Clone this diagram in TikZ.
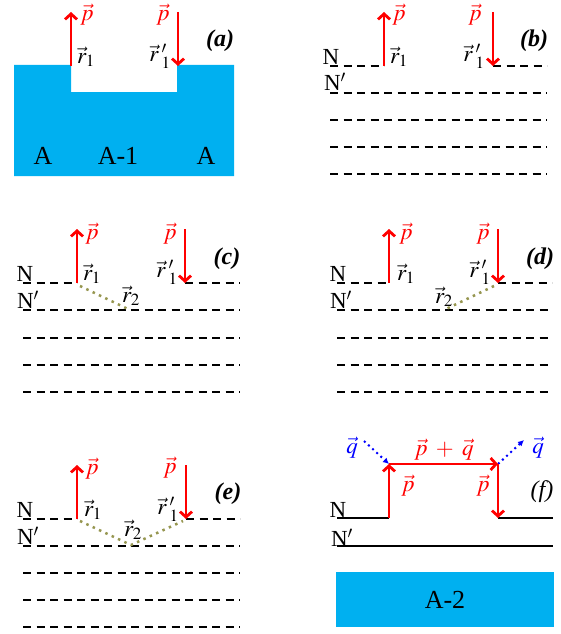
\documentclass[tikz,border=0pt]{standalone}
\usepackage{mathptmx}
\usepackage{fontspec}
\setmainfont{Liberation Serif}
\usetikzlibrary{arrows.meta}
\definecolor{cyanblue}{RGB}{0,176,240}
\definecolor{olivedot}{RGB}{150,150,80}
\begin{document}
\begin{tikzpicture}[x=1pt,y=-1pt,
  lbl/.style={font=\fontsize{23}{25}\selectfont, inner sep=0pt},
  big/.style={font=\fontsize{26}{28}\selectfont, inner sep=0pt},
  redlbl/.style={lbl, text=red},
  bluelbl/.style={lbl, text=blue},
  plbl/.style={font=\fontsize{24}{26}\selectfont\bfseries\itshape, inner sep=0pt},
  parr/.style={red, line width=2.8pt, -{Straight Barb[length=5.5pt,width=12pt]}},
  dline/.style={line width=2.5pt, dash pattern=on 8pt off 5.5pt},
  sline/.style={line width=2.5pt},
  dotpath/.style={olivedot, line width=2.5pt, dash pattern=on 2.5pt off 4.5pt},
  qarr/.style={blue, line width=2pt, dash pattern=on 2pt off 3.6pt, -{Latex[length=6pt,width=6pt]}}
]
\useasboundingbox (0,0) rectangle (561,634);

% ---------- (a)
\fill[cyanblue] (14,65) -- (71,65) -- (71,92) -- (177,92) -- (177,65) -- (234,65) -- (234,176) -- (14,176) -- cycle;
\node[big] (aA1) at (43,156) {A};
\node[big] (aAm) at (118,156) {A-1};
\node[big] (aA2) at (206,156) {A};
\coordinate (a1b) at (71,66); \coordinate (a1t) at (71,12);
\coordinate (a2t) at (178,12); \coordinate (a2b) at (178,66);
\draw[parr] (a1b) -- (a1t);
\draw[parr] (a2t) -- (a2b);
\node[redlbl] (ap1) at (87,15) {$\vec{p}$};
\node[redlbl] (ap2) at (163,15) {$\vec{p}$};
\node[lbl] (ar1) at (86,57) {$\vec{r}_1$};
\node[lbl] (ar1p) at (160,56) {$\vec{r}\,'_1$};
\node[plbl] (alab) at (220,41) {(a)};

% ---------- (b)
\coordinate (b1b) at (384,66); \coordinate (b1t) at (384,12);
\coordinate (b2t) at (493,12); \coordinate (b2b) at (493,66);
\draw[dline] (330,66) -- (b1b);
\draw[dline] (b2b) -- (547,66);
\foreach \yy in {93,120,147,174} \draw[dline] (330,\yy) -- (547,\yy);
\draw[parr] (b1b) -- (b1t);
\draw[parr] (b2t) -- (b2b);
\node[redlbl] (bp1) at (399,15) {$\vec{p}$};
\node[redlbl] (bp2) at (475,15) {$\vec{p}$};
\node[lbl] (br1) at (399,57) {$\vec{r}_1$};
\node[lbl] (br1p) at (474,56) {$\vec{r}\,'_1$};
\node[plbl] (blab) at (534,41) {(b)};
\node[lbl] (bN) at (331,57) {N};
\node[lbl] (bNp) at (335,82) {N$'$};

% ---------- (c)
\coordinate (c1b) at (77,283); \coordinate (c1t) at (77,229);
\coordinate (c2t) at (185,229); \coordinate (c2b) at (185,283);
\coordinate (c1d) at (80,286); \coordinate (c2d) at (130,310);
\draw[dline] (23,283) -- (c1b);
\draw[dline] (c2b) -- (240,283);
\foreach \yy in {310,338,365,392} \draw[dline] (23,\yy) -- (240,\yy);
\draw[dotpath] (c1d) -- (c2d);
\draw[parr] (c1b) -- (c1t);
\draw[parr] (c2t) -- (c2b);
\node[redlbl] (cp1) at (92,234) {$\vec{p}$};
\node[redlbl] (cp2) at (170,234) {$\vec{p}$};
\node[lbl] (cr1) at (92,274) {$\vec{r}_1$};
\node[lbl] (cr1p) at (167,272) {$\vec{r}\,'_1$};
\node[lbl] (cr2) at (131,296) {$\vec{r}_2$};
\node[plbl] (clab) at (227,259) {(c)};
\node[lbl] (cN) at (25,274) {N};
\node[lbl] (cNp) at (28,300) {N$'$};

% ---------- (d)
\coordinate (d1b) at (389,283); \coordinate (d1t) at (389,229);
\coordinate (d2t) at (498,229); \coordinate (d2b) at (498,283);
\coordinate (d1d) at (494,286); \coordinate (d2d) at (444,310);
\draw[dline] (337,283) -- (d1b);
\draw[dline] (d2b) -- (552,283);
\foreach \yy in {310,338,365,392} \draw[dline] (337,\yy) -- (552,\yy);
\draw[dotpath] (d1d) -- (d2d);
\draw[parr] (d1b) -- (d1t);
\draw[parr] (d2t) -- (d2b);
\node[redlbl] (dp1) at (406,234) {$\vec{p}$};
\node[redlbl] (dp2) at (483,234) {$\vec{p}$};
\node[lbl] (dr1) at (406,274) {$\vec{r}_1$};
\node[lbl] (dr1p) at (480,272) {$\vec{r}\,'_1$};
\node[lbl] (dr2) at (444,297) {$\vec{r}_2$};
\node[plbl] (dlab) at (540,259) {(d)};
\node[lbl] (dN) at (338,274) {N};
\node[lbl] (dNp) at (341,300) {N$'$};

% ---------- (e)
\coordinate (e1b) at (77,519); \coordinate (e1t) at (77,465);
\coordinate (e2t) at (186,465); \coordinate (e2b) at (186,519);
\coordinate (e1d) at (80,521); \coordinate (emid) at (131,545); \coordinate (e2d) at (183,521);
\draw[dline] (23,519) -- (e1b);
\draw[dline] (e2b) -- (240,519);
\foreach \yy in {546,573,600,627} \draw[dline] (23,\yy) -- (240,\yy);
\draw[dotpath] (e1d) -- (emid) -- (e2d);
\draw[parr] (e1b) -- (e1t);
\draw[parr] (e2t) -- (e2b);
\node[redlbl] (ep1) at (92,469) {$\vec{p}$};
\node[redlbl] (ep2) at (170,468) {$\vec{p}$};
\node[lbl] (er1) at (93,510) {$\vec{r}_1$};
\node[lbl] (er1p) at (168,509) {$\vec{r}\,'_1$};
\node[lbl] (er2) at (133,530) {$\vec{r}_2$};
\node[plbl] (elab) at (228,494) {(e)};
\node[lbl] (eN) at (25,510) {N};
\node[lbl] (eNp) at (28,536) {N$'$};

% ---------- (f)
\coordinate (f1b) at (389,518); \coordinate (f1t) at (389,464);
\coordinate (f2t) at (498,464); \coordinate (f2b) at (498,518);
\coordinate (fq1s) at (364,441);
\coordinate (fq2e) at (524,440);
\draw[sline] (337,518) -- (f1b);
\draw[sline] (f2b) -- (553,518);
\draw[sline] (337,546) -- (553,546);
\fill[cyanblue] (336,572) rectangle (554,627);
\node[big] (fA2) at (445,600) {A-2};
\draw[qarr] (fq1s) -- (f1t);
\draw[qarr] (f2t) -- (fq2e);
\draw[parr] (f1b) -- (f1t);
\draw[parr] (f1t) -- (f2t);
\draw[parr] (f2t) -- (f2b);
\node[bluelbl] (fq1) at (352,448) {$\vec{q}$};
\node[bluelbl] (fq2) at (538,448) {$\vec{q}$};
\node[redlbl] (fpq) at (444,450) {$\vec{p}\;+\;\vec{q}$};
\node[redlbl] (fp1) at (408,486) {$\vec{p}$};
\node[redlbl] (fp2) at (483,486) {$\vec{p}$};
\node[font=\fontsize{24}{26}\selectfont\itshape, inner sep=0pt] (flab) at (542,492) {(f)};
\node[lbl] (fN) at (338,510) {N};
\node[lbl] (fNp) at (342,538) {N$'$};
\end{tikzpicture}
\end{document}
